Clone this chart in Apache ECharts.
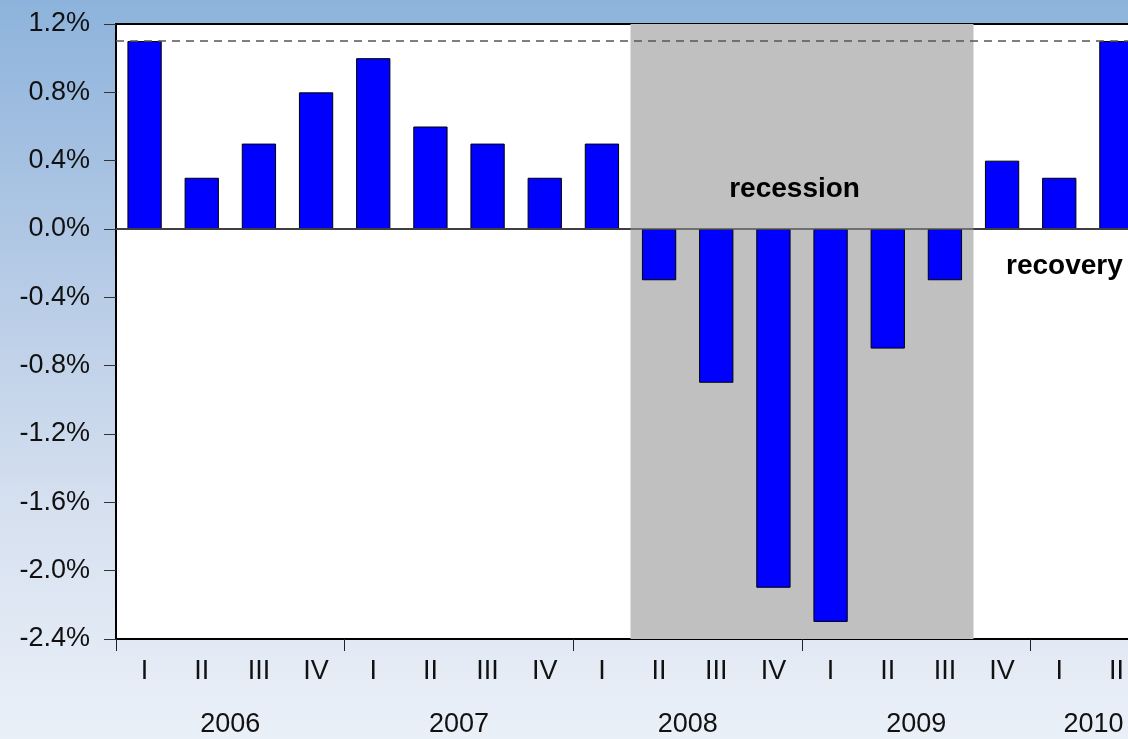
<!DOCTYPE html>
<html>
<head>
<meta charset="utf-8">
<script src="https://cdn.jsdelivr.net/npm/echarts@6/dist/echarts.min.js"></script>
<style>
  html, body { margin: 0; padding: 0; }
  #main { width: 1128px; height: 739px; }
</style>
</head>
<body>
<div id="main"></div>
<script>
// quarterly growth, 2006 Q1 .. 2010 Q2
const quarters = ['I', 'II', 'III', 'IV', 'I', 'II', 'III', 'IV', 'I', 'II', 'III', 'IV', 'I', 'II', 'III', 'IV', 'I', 'II'];
const growth = [1.1, 0.3, 0.5, 0.8, 1.0, 0.6, 0.5, 0.3, 0.5, -0.3, -0.9, -2.1, -2.3, -0.7, -0.3, 0.4, 0.3, 1.1];
const years = ['2006', '2007', '2008', '2009', '2010'];
const yearCenters = [2, 6, 10, 14, 17.1];   // in quarter units
const yearStarts = [0, 4, 8, 12, 16];
const recession = [9, 15];                  // 2008 Q2 .. end of 2009 Q3
const refLevel = 1.1;

const font = '"Liberation Sans", Arial, sans-serif';

function pct(v) {
    if (Math.abs(v) < 1e-9) v = 0;
    return v.toFixed(1) + '%';
}

var myChart = echarts.init(document.getElementById('main'));

var option = {
    animation: false,
    backgroundColor: {
        type: 'linear', x: 0, y: 0, x2: 0, y2: 1,
        colorStops: [
            { offset: 0, color: '#8db3dc' },
            { offset: 0.35, color: '#b3c9e5' },
            { offset: 0.7, color: '#d7e1f0' },
            { offset: 1, color: '#eaf0f8' }
        ]
    },
    // plot runs past the right edge of the window, as in the original
    grid: {
        left: 116, width: 1029, top: 24, bottom: 100,
        outerBoundsMode: 'none', containLabel: false,
        show: true, backgroundColor: '#fff', borderColor: '#000', borderWidth: 2
    },
    xAxis: [
        {
            type: 'category',
            data: quarters,
            axisLine: { lineStyle: { color: '#000', width: 2 } },
            axisTick: { interval: 0, length: 6, lineStyle: { color: '#222' } },
            axisLabel: { interval: 0, margin: 19, fontSize: 27, color: '#111', fontFamily: font },
            splitLine: { show: false }
        },
        {
            type: 'value',
            min: 0, max: 18,
            position: 'bottom',
            axisLine: { show: false },
            axisTick: { show: true, customValues: yearStarts, length: 12, lineStyle: { color: '#222' } },
            axisLabel: {
                customValues: yearCenters, margin: 72, fontSize: 27, color: '#111', fontFamily: font,
                formatter: function (v) {
                    let i = yearCenters.indexOf(v);
                    return i >= 0 ? years[i] : '';
                }
            },
            splitLine: { show: false }
        }
    ],
    yAxis: {
        type: 'value',
        min: -2.4, max: 1.2, interval: 0.4,
        axisLine: { show: true, lineStyle: { color: '#000', width: 2 } },
        axisTick: { show: true, length: 12, lineStyle: { color: '#333' } },
        axisLabel: { margin: 26, fontSize: 27, color: '#111', fontFamily: font, formatter: pct },
        splitLine: { show: false }
    },
    series: [
        {
            type: 'line',
            xAxisIndex: 1,
            data: [[0, 0]],
            showSymbol: false,
            lineStyle: { opacity: 0 },
            z: 1,
            markArea: {
                silent: true,
                itemStyle: { color: '#c0c0c0' },
                data: [[{ xAxis: recession[0], yAxis: -2.4 }, { xAxis: recession[1], yAxis: 1.2 }]]
            },
            markPoint: {
                symbol: 'rect', symbolSize: 0,
                label: { show: true, position: 'inside', fontSize: 28, fontWeight: 'bold', color: '#000', fontFamily: font },
                data: [
                    { coord: [11.87, 0.23], value: 'recession', label: { formatter: 'recession' } },
                    { coord: [16.59, -0.22], value: 'recovery', label: { formatter: 'recovery' } }
                ]
            }
        },
        {
            type: 'bar',
            data: growth,
            barWidth: '60%',
            z: 3,
            itemStyle: { color: '#0000ff', borderColor: '#000', borderWidth: 1 },
            markLine: {
                silent: true,
                symbol: 'none',
                label: { show: false },
                data: [
                    { yAxis: 0, lineStyle: { color: '#555', type: 'solid', width: 1.5 } },
                    { yAxis: refLevel, lineStyle: { color: '#555', type: [8, 6], width: 1.5 } }
                ]
            }
        }
    ]
};

myChart.setOption(option);
</script>
</body>
</html>
